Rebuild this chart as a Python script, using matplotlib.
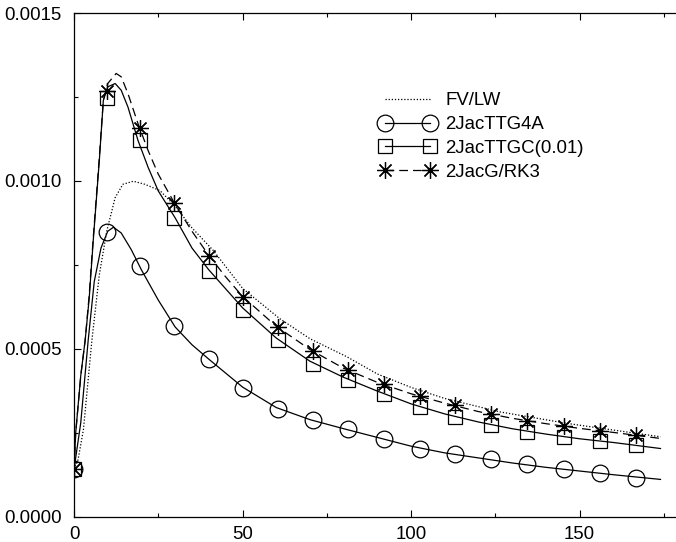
import numpy as np
import matplotlib
matplotlib.use("Agg")
import matplotlib.pyplot as plt
from matplotlib.lines import Line2D
from matplotlib.ticker import MultipleLocator, FormatStrFormatter

plt.rcParams["font.family"] = ["Liberation Sans", "DejaVu Sans"]

# marker sample times (shared by the three marked series)
t_mark = [0, 9.7, 19.5, 29.7, 40.0, 50.2, 60.6, 71.0, 81.4, 92.0,
          102.5, 113.0, 123.8, 134.5, 145.3, 156.0, 166.8]
g4a_mark = [0.000141, 0.000849, 0.000748, 0.000569, 0.000469, 0.000384,
            0.000322, 0.000287, 0.000260, 0.000230, 0.000203, 0.000188,
            0.000171, 0.000157, 0.000143, 0.000129, 0.000116]
ttgc_mark = [0.000141, 0.001247, 0.001122, 0.000890, 0.000731, 0.000617,
             0.000525, 0.000456, 0.000408, 0.000365, 0.000327, 0.000296,
             0.000273, 0.000253, 0.000238, 0.000226, 0.000213]
rk3_mark = [0.000141, 0.001269, 0.001159, 0.000934, 0.000776, 0.000654,
            0.000565, 0.000494, 0.000436, 0.000395, 0.000359, 0.000332,
            0.000305, 0.000285, 0.000270, 0.000256, 0.000243]

# continuous curves
fv_t = [0, 1.2, 2.8, 5.3, 7.5, 9.7, 12.2, 14.5, 17.6, 21, 25.5, 30, 35,
        41.3, 50, 61, 70, 81, 90, 100, 110, 126.4, 146.2, 160, 174]
fv_y = [0.000141, 0.000170, 0.000260, 0.000525, 0.000720, 0.000850,
        0.000950, 0.000990, 0.000999, 0.000990, 0.000971, 0.000925,
        0.000860, 0.000793, 0.000680, 0.000590, 0.000530, 0.000476,
        0.000425, 0.000385, 0.000352, 0.000312, 0.000278, 0.000258,
        0.000238]

g4a_t = [0, 2, 4.2, 6, 8, 10, 11.7, 14, 17, 20, 25, 30, 35, 40, 50, 60,
         70, 80, 90, 100, 110, 120, 130, 140, 150, 160, 174]
g4a_y = [0.000141, 0.000280, 0.000525, 0.000700, 0.000800, 0.000850,
         0.000862, 0.000845, 0.000795, 0.000735, 0.000645, 0.000565,
         0.000512, 0.000469, 0.000386, 0.000325, 0.000289, 0.000262,
         0.000236, 0.000210, 0.000190, 0.000175, 0.000160, 0.000147,
         0.000136, 0.000125, 0.000111]

ttgc_t = [0, 0.5, 2, 3.3, 4.5, 5.7, 7.5, 8.7, 10, 12.2, 14, 16, 19, 22,
          25, 30, 35, 40, 50, 60, 70, 80, 90, 100, 110, 120, 130, 140,
          150, 160, 174]
ttgc_y = [0.000141, 0.000250, 0.000420, 0.000525, 0.000650, 0.000822,
          0.001060, 0.001240, 0.001280, 0.001290, 0.001270, 0.001220,
          0.001120, 0.001040, 0.000970, 0.000890, 0.000800, 0.000735,
          0.000622, 0.000532, 0.000463, 0.000415, 0.000374, 0.000336,
          0.000306, 0.000282, 0.000262, 0.000246, 0.000232, 0.000221,
          0.000203]

rk3_t = [0, 0.5, 2, 3.3, 4.5, 5.7, 7.5, 8.7, 10, 12.5, 14, 16, 19, 22,
         25, 30, 35, 40, 45, 50, 60, 70, 80, 90, 100, 110, 120, 130, 140,
         150, 160, 174]
rk3_y = [0.000141, 0.000250, 0.000420, 0.000525, 0.000660, 0.000830,
         0.001070, 0.001240, 0.001290, 0.001320, 0.001310, 0.001260,
         0.001170, 0.001090, 0.001020, 0.000930, 0.000850, 0.000778,
         0.000714, 0.000656, 0.000567, 0.000498, 0.000442, 0.000400,
         0.000366, 0.000338, 0.000313, 0.000293, 0.000277, 0.000263,
         0.000251, 0.000233]

labels = ["FV/LW", "2JacTTG4A", "2JacTTGC(0.01)", "2JacG/RK3"]

fig = plt.figure(figsize=(6.76, 5.42), dpi=100)
ax = fig.add_axes([0.1095, 0.0467, 0.8905, 0.9293])

lw = 0.9
star = (8, 2, 0)
dash = (7, 4)
dot = (0, (1, 1.5))

ax.plot(fv_t, fv_y, color="black", lw=lw, linestyle=dot)
ax.plot(g4a_t, g4a_y, color="black", lw=lw)
ax.plot(ttgc_t, ttgc_y, color="black", lw=lw)
ax.plot(rk3_t, rk3_y, color="black", lw=lw, linestyle=(0, dash))

ax.plot(t_mark, g4a_mark, linestyle="none", marker="o", ms=12,
        mfc="none", mec="black", mew=0.9)
ax.plot(t_mark, ttgc_mark, linestyle="none", marker="s", ms=10,
        mfc="none", mec="black", mew=0.9)
ax.plot(t_mark, rk3_mark, linestyle="none", marker=star, ms=12,
        mfc="none", mec="black", mew=0.9)

handles = [
    Line2D([], [], color="black", lw=lw, linestyle=dot),
    Line2D([], [], color="black", lw=lw, marker="o", ms=12, mfc="none", mew=0.9),
    Line2D([], [], color="black", lw=lw, marker="s", ms=10, mfc="none", mew=0.9),
    Line2D([], [], color="black", lw=lw, linestyle=(0, dash), marker=star,
           ms=12, mew=0.9),
]
ax.legend(handles, labels, loc="upper left", bbox_to_anchor=(0.562, 0.83),
          bbox_transform=fig.transFigure, frameon=False, numpoints=2,
          fontsize=13.4, handlelength=3.0, handletextpad=0.5,
          labelspacing=0.37, borderpad=0, borderaxespad=0)

ax.set_xlim(0, 178.6)
ax.set_ylim(0, 0.0015)
ax.xaxis.set_major_locator(MultipleLocator(50))
ax.xaxis.set_minor_locator(MultipleLocator(25))
ax.yaxis.set_major_locator(MultipleLocator(0.0005))
ax.yaxis.set_minor_locator(MultipleLocator(0.00025))
ax.yaxis.set_major_formatter(FormatStrFormatter("%.4f"))
ax.tick_params(which="both", direction="in", top=True, right=False,
               labelsize=13.4, width=0.8)
ax.tick_params(which="major", length=5)
ax.tick_params(axis="y", which="major", pad=9)
ax.tick_params(axis="x", which="major", pad=7)
ax.tick_params(which="minor", length=3)
ax.spines["right"].set_visible(False)
for s in ["left", "top", "bottom"]:
    ax.spines[s].set_linewidth(0.9)

fig.savefig("out.png", dpi=100)
